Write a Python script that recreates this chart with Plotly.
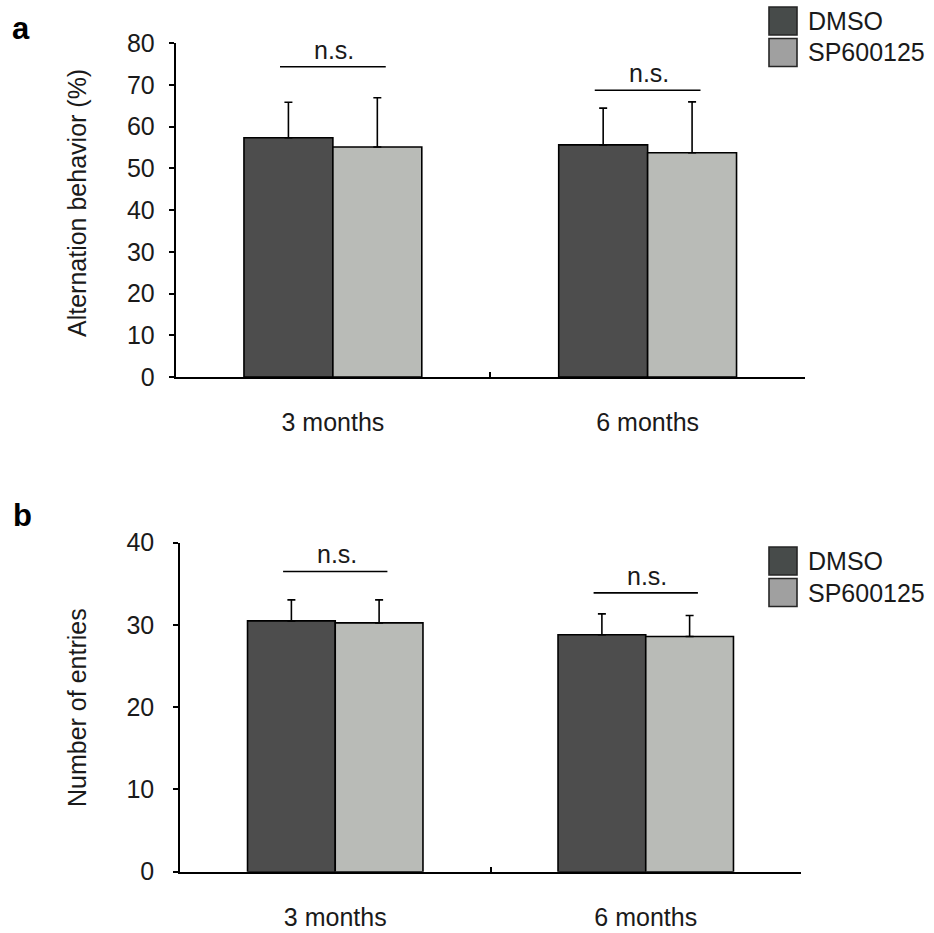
import plotly.graph_objects as go

# ---------------- data ----------------
categories = ["3 months", "6 months"]
series = ["DMSO", "SP600125"]

# panel a: Alternation behavior (%)
alt_dmso = [57.3, 55.6]
alt_sp = [55.1, 53.7]
alt_dmso_err = [8.5, 8.8]
alt_sp_err = [11.8, 12.2]
alt_ns_y = [74.3, 68.7]

# panel b: Number of entries
ent_dmso = [30.5, 28.8]
ent_sp = [30.25, 28.6]
ent_dmso_err = [2.55, 2.55]
ent_sp_err = [2.8, 2.55]
ent_ns_y = [36.5, 33.9]

# ---------------- styles ----------------
W, H = 934, 933
FONT = "Liberation Sans, Arial, sans-serif"
C_DMSO = "#4d4d4d"
C_SP = "#b9bbb7"
LEG_DMSO = "#474b4a"
LEG_SP = "#a0a0a0"
TXT = "#1a1a1a"


def px(x):
    return x / W


def py(y):
    return 1 - y / H


fig = go.Figure()


def add_bars(vals, errs, color, name, xa, ya):
    fig.add_trace(go.Bar(
        x=categories, y=vals, name=name, xaxis=xa, yaxis=ya,
        marker=dict(color=color, line=dict(color="black", width=1.6)),
        error_y=dict(type="data", symmetric=False, array=errs,
                     arrayminus=[0] * len(errs), color="black",
                     thickness=1.6, width=4),
        showlegend=False,
    ))


add_bars(alt_dmso, alt_dmso_err, C_DMSO, series[0], "x", "y")
add_bars(alt_sp, alt_sp_err, C_SP, series[1], "x", "y")
add_bars(ent_dmso, ent_dmso_err, C_DMSO, series[0], "x2", "y2")
add_bars(ent_sp, ent_sp_err, C_SP, series[1], "x2", "y2")

xcommon = dict(type="category", range=[-0.5, 1.5], showline=True,
               linecolor="black", linewidth=1.6, ticks="inside",
               tickson="boundaries", ticklen=5, tickwidth=1.6,
               tickcolor="black", showgrid=False, zeroline=False,
               tickfont=dict(size=25, color=TXT, family=FONT),
               ticklabelstandoff=22, automargin=False, fixedrange=True)
ycommon = dict(showline=True, linecolor="black", linewidth=1.6,
               ticks="outside", ticklen=5, tickwidth=1.6, tickcolor="black",
               showgrid=False, zeroline=False,
               tickfont=dict(size=25, color=TXT, family=FONT),
               automargin=False, fixedrange=True)

fig.update_layout(
    width=W, height=H,
    margin=dict(l=0, r=0, t=0, b=0, autoexpand=False),
    paper_bgcolor="white", plot_bgcolor="white",
    barmode="group", bargap=0.435, bargroupgap=0,
    font=dict(family=FONT, color=TXT),
    xaxis=dict(domain=[px(175.5), px(805)], anchor="y", **xcommon),
    yaxis=dict(domain=[py(377), py(43)], anchor="x", range=[0, 80],
               dtick=10, ticklabelstandoff=9, **ycommon),
    xaxis2=dict(domain=[px(180), px(801)], anchor="y2", **xcommon),
    yaxis2=dict(domain=[py(871.7), py(542.7)], anchor="x2", range=[0, 40],
                dtick=10, ticklabelstandoff=14, **ycommon),
)

shapes = []
annotations = []

# significance brackets
for xa, ya, ns in (("x", "y", alt_ns_y), ("x2", "y2", ent_ns_y)):
    for i, yv in enumerate(ns):
        shapes.append(dict(type="line", xref=xa, yref=ya,
                           x0=i - 0.168, x1=i + 0.168, y0=yv, y1=yv,
                           line=dict(color="black", width=1.6)))
        annotations.append(dict(xref=xa, yref=ya, x=i + 0.005, y=yv,
                                text="n.s.", showarrow=False,
                                yanchor="bottom", yshift=1,
                                font=dict(size=25, family=FONT, color=TXT)))

# legends (drawn manually to match box colours)
for top in (7, 547):
    for k, (nm, col) in enumerate(zip(series, [LEG_DMSO, LEG_SP])):
        y0 = top + k * 31.5
        shapes.append(dict(type="rect", xref="paper", yref="paper",
                           x0=px(769), x1=px(797), y0=py(y0 + 28), y1=py(y0),
                           fillcolor=col,
                           line=dict(color="#262626", width=1.6)))
        annotations.append(dict(xref="paper", yref="paper", x=px(806),
                                y=py(y0 + 14), text=nm, showarrow=False,
                                xanchor="left", yanchor="middle",
                                font=dict(size=25, family=FONT, color=TXT)))

# y-axis titles
for txt, yc in (("Alternation behavior (%)", 203), ("Number of entries", 708)):
    annotations.append(dict(xref="paper", yref="paper", x=px(77), y=py(yc),
                            text=txt, textangle=-90, showarrow=False,
                            xanchor="center", yanchor="middle",
                            font=dict(size=25, family=FONT, color=TXT)))

# panel letters
for txt, xc, yc in (("<b>a</b>", 21, 29), ("<b>b</b>", 22, 515)):
    annotations.append(dict(xref="paper", yref="paper", x=px(xc), y=py(yc),
                            text=txt, showarrow=False,
                            xanchor="center", yanchor="middle",
                            font=dict(size=31, family=FONT, color="black")))

fig.update_layout(shapes=shapes, annotations=annotations)
fig.write_html("out.html")
